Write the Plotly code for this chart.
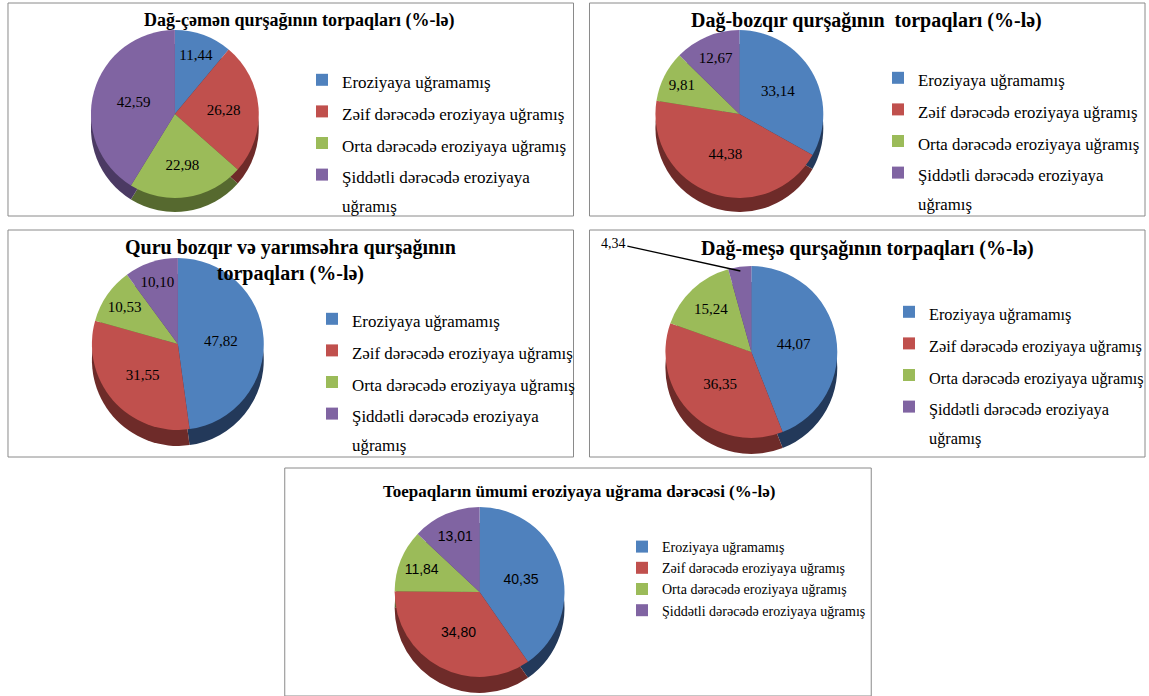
import plotly.graph_objects as go

W, H = 1149, 696

categories = ["Eroziyaya uğramamış",
              "Zəif dərəcədə eroziyaya uğramış",
              "Orta dərəcədə eroziyaya uğramış",
              "Şiddətli dərəcədə eroziyaya uğramış"]
colors = ["#4F81BD", "#C0504D", "#9BBB59", "#8064A2"]
side_colors = ["#23395A", "#6E2B29", "#56692F", "#4B3A63"]

titles = ["Dağ-çəmən qurşağının torpaqları (%-lə)",
          "Dağ-bozqır qurşağının\u00a0 torpaqları (%-lə)",
          "Quru bozqır və yarımsəhra qurşağının<br>torpaqları (%-lə)",
          "Dağ-meşə qurşağının torpaqları (%-lə)",
          "Toepaqların ümumi eroziyaya uğrama dərəcəsi (%-lə)"]

dag_cemen = [11.44, 26.28, 22.98, 42.59]
dag_bozqir = [33.14, 44.38, 9.81, 12.67]
quru_bozqir = [47.82, 31.55, 10.53, 10.10]
dag_mese = [44.07, 36.35, 15.24, 4.34]
umumi = [40.35, 34.80, 11.84, 13.01]
series = [dag_cemen, dag_bozqir, quru_bozqir, dag_mese, umumi]

SERIF = "Liberation Serif"
SANS = "Liberation Sans"


def px(x, y):
    return x / W, 1 - y / H


def wrapped_labels(size):
    st = f"font-size:{size}px;font-family:{SERIF}"
    out = []
    for c in categories:
        if c.startswith("Şiddətli"):
            out.append(f"<span style='{st}'>Şiddətli dərəcədə eroziyaya</span>"
                       f"<br><span style='{st}'>uğramış</span>")
        else:
            out.append(f"<span style='{st}'>{c}</span>")
    return out


# layout geometry (pixels): pie centre/radius, depth, panel box, legend text-start & first item y, title pos
panels = [
    dict(c=(175, 114), r=84, d=14, box=(8, 3, 574, 216), leg=(342, 81), tt=(299, 20), ts=18, ls="17",
         lf=SERIF),
    dict(c=(740, 114), r=84, d=14, box=(590, 3, 1146, 216), leg=(918, 79), tt=(867, 20), ts=20, ls="16.8",
         lf=SERIF),
    dict(c=(178, 344), r=86, d=16, box=(8, 230, 574, 457), leg=(352, 320), tt=(291, 260), ts=20, ls="16.9",
         lf=SERIF),
    dict(c=(752, 352), r=86, d=16, box=(590, 230, 1146, 457), leg=(930, 313), tt=(868, 248), ts=20, ls="16.3",
         lf=SERIF),
    dict(c=(480, 592), r=85, d=16, box=(285, 468, 872, 696), leg=(662, 546), tt=(580, 491), ts=17, ls=None,
         lf=SANS),
]

fig = go.Figure()
shapes = []
annotations = []
layout_legends = {}

for i, (p, vals) in enumerate(zip(panels, series)):
    cx, cy = p["c"]
    r = p["r"]
    d = p["d"]
    legname = "legend" if i == 0 else f"legend{i+1}"

    # darker copy shifted down -> side of the 3-D pie
    sx0, sy1 = px(cx - r, cy - r + d)
    sx1, sy0 = px(cx + r, cy + r + d)
    fig.add_trace(go.Pie(
        labels=categories, values=vals, sort=False, direction="clockwise", rotation=0,
        marker=dict(colors=side_colors, line=dict(width=0)),
        textinfo="none", domain=dict(x=[sx0, sx1], y=[sy0, sy1]),
        showlegend=False, hoverinfo="skip", legend=legname,
    ))

    x0, y1 = px(cx - r, cy - r)
    x1, y0 = px(cx + r, cy + r)
    tt = ["%{value:.2f}"] * len(vals)
    if i == 3:
        tt[3] = ""
    if p["ls"]:
        labels = wrapped_labels(p["ls"])
        legfont = 22
        top = p["leg"][1] - 22
    else:
        labels = categories
        legfont = 14
        top = p["leg"][1] - 15
    fig.add_trace(go.Pie(
        labels=labels, values=vals, sort=False, direction="clockwise", rotation=0,
        marker=dict(colors=colors, line=dict(width=0)),
        texttemplate=tt, textposition="inside", insidetextorientation="horizontal",
        textfont=dict(family=p["lf"], size=15 if p["lf"] == SERIF else 14, color="black"),
        domain=dict(x=[x0, x1], y=[y0, y1]), legend=legname, showlegend=True,
        hoverinfo="label+value",
    ))
    lx, ly = p["leg"]
    layout_legends[legname] = dict(
        x=(lx - 40) / W, y=1 - top / H, xanchor="left", yanchor="top",
        font=dict(family=SERIF, size=legfont, color="black"),
        bgcolor="rgba(0,0,0,0)", valign="top", itemwidth=30,
    )
    bx0, by0, bx1, by1 = p["box"]
    shapes.append(dict(type="rect", xref="paper", yref="paper",
                       x0=bx0 / W, x1=bx1 / W, y0=1 - by1 / H, y1=1 - by0 / H,
                       line=dict(color="#8a8a8a", width=1)))
    tx, ty = p["tt"]
    annotations.append(dict(text=titles[i], x=tx / W, y=1 - ty / H, xref="paper", yref="paper",
                            xanchor="center", yanchor="middle", showarrow=False,
                            font=dict(family=SERIF, size=p["ts"], color="black", weight="bold")))

# leader label for the small slice in the Dağ-meşə pie
annotations.append(dict(text=f"{dag_mese[3]:.2f}".replace(".", ","), x=741 / W, y=1 - 271 / H,
                        xref="paper", yref="paper", showarrow=True, arrowhead=0, arrowwidth=1.3,
                        arrowcolor="black", ax=-127, ay=-28,
                        font=dict(family=SERIF, size=14, color="black")))

fig.update_layout(
    width=W, height=H, margin=dict(l=0, r=0, t=0, b=0),
    paper_bgcolor="white", plot_bgcolor="white",
    separators=", ",
    shapes=shapes, annotations=annotations,
    **layout_legends,
)

fig.write_html("out.html")
